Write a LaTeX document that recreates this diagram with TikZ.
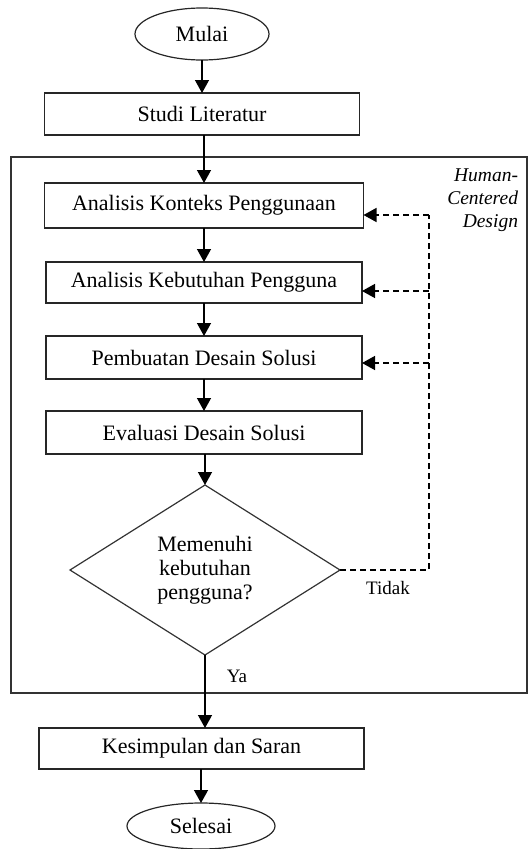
\documentclass[tikz,border=0pt]{standalone}
\usepackage{fontspec}
\setmainfont{Liberation Serif}
\usetikzlibrary{arrows.meta,shapes.geometric}
\begin{document}
\begin{tikzpicture}[x=1pt,y=-1pt,
  every node/.style={inner sep=0pt, outer sep=0pt},
  proc/.style={draw=black!85, line width=1.4pt, rectangle, font=\fontsize{22}{26}\selectfont},
  term/.style={draw=black!85, line width=1.2pt, ellipse, font=\fontsize{22}{26}\selectfont},
  decis/.style={draw=black!80, line width=1.2pt, diamond, align=center, font=\fontsize{22}{24}\selectfont},
  lbl/.style={font=\fontsize{19}{22}\selectfont},
  flow/.style={line width=1.4pt, -{Triangle[width=14pt,length=13pt]}},
  fb/.style={line width=1.4pt, dash pattern=on 6pt off 4pt},
  fbarrow/.style={fb, -{Triangle[width=14pt,length=13pt]}}
]
\useasboundingbox (0,0) rectangle (528,849);
% frame
\draw[draw=black!80, line width=1.4pt] (11,157) rectangle (527,693);
\node[align=right, anchor=east, font=\itshape\fontsize{19.5}{23}\selectfont] (hcd) at (518,200) {Human-\\Centered\\Design};

\node[term, minimum width=134pt, minimum height=52pt] (mulai) at (202,34) {Mulai};
\node[proc, minimum width=315pt, minimum height=42pt] (studi) at (202,114) {Studi Literatur};
\node[proc, minimum width=319pt, minimum height=45pt] (konteks) at (204,205.5) {Analisis Konteks Penggunaan};
\node[proc, minimum width=316pt, minimum height=41pt] (kebutuhan) at (204,282.5) {Analisis Kebutuhan Pengguna};
\node[proc, minimum width=316pt, minimum height=43pt] (pembuatan) at (204,357.5) {Pembuatan Desain Solusi};
\node[proc, minimum width=316pt, minimum height=43pt] (evaluasi) at (204,432.5) {Evaluasi Desain Solusi};
\node[decis, minimum width=270pt, minimum height=170pt] (dec) at (205,570) {Memenuhi\\kebutuhan\\pengguna?};
\node[proc, minimum width=325pt, minimum height=41pt] (kesimpulan) at (201.5,748.5) {Kesimpulan dan Saran};
\node[term, minimum width=148pt, minimum height=46pt] (selesai) at (201,826) {Selesai};

\node[lbl] (tidak) at (388,588) {Tidak};
\node[lbl] (ya) at (237,676) {Ya};

% main flow
\draw[flow] (mulai.south) -- (studi.north -| mulai.south);
\draw[flow] (studi.south -| konteks.north) -- (konteks.north);
\draw[flow] (konteks.south -| kebutuhan.north) -- (kebutuhan.north);
\draw[flow] (kebutuhan.south) -- (pembuatan.north);
\draw[flow] (pembuatan.south) -- (evaluasi.north);
\draw[flow] (evaluasi.south -| dec.north) -- (dec.north);
\draw[flow] (dec.south) -- (kesimpulan.north -| dec.south);
\draw[flow] (kesimpulan.south -| selesai.north) -- (selesai.north);

% feedback
\coordinate (j0) at (429,570);
\coordinate (j1) at (429,215);
\coordinate (j2) at (429,291);
\coordinate (j3) at (429,363);
\draw[fb] (dec.east) -- (j0) -- (j1);
\draw[fbarrow] (j1) -- (j1 -| konteks.east);
\draw[fbarrow] (j2) -- (j2 -| kebutuhan.east);
\draw[fbarrow] (j3) -- (j3 -| pembuatan.east);
\end{tikzpicture}
\end{document}
